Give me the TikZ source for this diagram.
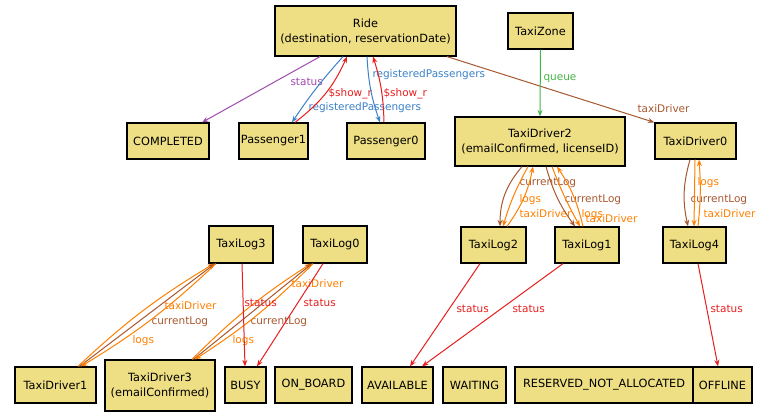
\documentclass[tikz,border=0pt]{standalone}
\usepackage{fontspec}
\setmainfont{DejaVu Sans}
\usetikzlibrary{arrows.meta}
\definecolor{boxfill}{RGB}{238,222,132}
\definecolor{cpurple}{RGB}{160,75,175}
\definecolor{cblue}{RGB}{60,130,200}
\definecolor{cred}{RGB}{232,30,30}
\definecolor{cbrown}{RGB}{168,88,48}
\definecolor{corange}{RGB}{255,128,0}
\definecolor{cgreen}{RGB}{70,180,70}
\tikzset{
  box/.style={draw=black, line width=1.2pt, fill=boxfill, inner sep=0pt, align=center,
    font=\fontsize{11.3}{15}\selectfont},
  conn/.style={line width=1pt, -{Stealth[length=6.5pt,width=5pt]}},
  lbl/.style={anchor=west, inner sep=0pt, font=\fontsize{10.5}{12}\selectfont}
}
\begin{document}
\begin{tikzpicture}[x=1pt,y=-1pt]
\useasboundingbox[fill=white] (0,0) rectangle (765,417);
% nodes
\node[box, minimum width=181pt, minimum height=50pt] (ride) at (365.5,31) {Ride\\(destination, reservationDate)};
\node[box, minimum width=65pt, minimum height=36pt] (zone) at (540.5,31) {TaxiZone};
\node[box, minimum width=82pt, minimum height=36pt] (completed) at (168,141) {COMPLETED};
\node[box, minimum width=69pt, minimum height=36pt] (p1) at (273.5,141) {Passenger1};
\node[box, minimum width=78pt, minimum height=36pt] (p0) at (386,141) {Passenger0};
\node[box, minimum width=170pt, minimum height=49pt] (td2) at (540,141.5) {TaxiDriver2\\(emailConfirmed, licenseID)};
\node[box, minimum width=81pt, minimum height=36pt] (td0) at (695.5,141) {TaxiDriver0};
\node[box, minimum width=65pt, minimum height=36pt] (tl2) at (493.5,245) {TaxiLog2};
\node[box, minimum width=64pt, minimum height=36pt] (tl1) at (587,245) {TaxiLog1};
\node[box, minimum width=63pt, minimum height=36pt] (tl4) at (694.5,245) {TaxiLog4};
\node[box, minimum width=64pt, minimum height=37pt] (tl3) at (241,244.5) {TaxiLog3};
\node[box, minimum width=64pt, minimum height=37pt] (tl0) at (335,244.5) {TaxiLog0};
\node[box, minimum width=81pt, minimum height=36pt] (td1) at (55.5,385) {TaxiDriver1};
\node[box, minimum width=110pt, minimum height=51pt] (td3) at (160,385.5) {TaxiDriver3\\(emailConfirmed)};
\node[box, minimum width=41pt, minimum height=36pt] (busy) at (245.5,385) {BUSY};
\node[box, minimum width=77pt, minimum height=36pt] (onboard) at (313.5,385) {ON\_BOARD};
\node[box, minimum width=71pt, minimum height=36pt] (avail) at (397.5,385) {AVAILABLE};
\node[box, minimum width=63pt, minimum height=36pt] (waiting) at (474.5,385) {WAITING};
\node[box, minimum width=178pt, minimum height=36pt] (rna) at (604,385) {RESERVED\_NOT\_ALLOCATED};
\node[box, minimum width=59pt, minimum height=36pt] (offline) at (722.5,385) {OFFLINE};

% Ride edges
\draw[conn, cpurple] ([xshift=-45.5pt]ride.south) -- ([xshift=34pt]completed.north)
  node[lbl, text=cpurple] at (290,82) {status};
\draw[conn, cblue] ([xshift=-22.5pt]ride.south) to[bend right=4] ([xshift=18.5pt]p1.north)
  node[lbl, text=cblue] at (308,108) {registeredPassengers};
\draw[conn, cred] ([xshift=21.5pt]p1.north) to[bend right=14] ([xshift=-18.5pt]ride.south)
  node[lbl, text=cred] at (328,94) {\$show\_r};
\draw[conn, cblue] ([xshift=1.5pt]ride.south) to[bend right=8] ([xshift=-6pt]p0.north)
  node[lbl, text=cblue] at (372,75) {registeredPassengers};
\draw[conn, cred] ([xshift=-2pt]p0.north) to[bend right=8] ([xshift=7.5pt]ride.south)
  node[lbl, text=cred] at (383,94) {\$show\_r};
\draw[conn, cbrown] ([xshift=81.5pt]ride.south) -- (td0.north west)
  node[lbl, text=cbrown] at (637,109) {taxiDriver};
\draw[conn, cgreen] (zone.south) -- (td2.north)
  node[lbl, text=cgreen] at (543,79) {queue};

% TaxiDriver2 <-> TaxiLog2
\draw[conn, cbrown] ([xshift=-18pt]td2.south) to[bend right=20] ([xshift=6.5pt]tl2.north)
  node[lbl, text=cbrown] at (519,183) {currentLog};
\draw[conn, corange] ([xshift=-12pt]td2.south) to[bend right=6] ([xshift=9.5pt]tl2.north)
  node[lbl, text=corange] at (519,200) {logs};
\draw[conn, corange] ([xshift=13.5pt]tl2.north) to[bend right=12] ([xshift=-7pt]td2.south)
  node[lbl, text=corange] at (519,214) {taxiDriver};

% TaxiDriver2 <-> TaxiLog1
\draw[conn, cbrown] ([xshift=6pt]td2.south) to[bend right=10] ([xshift=-12pt]tl1.north)
  node[lbl, text=cbrown] at (564,200) {currentLog};
\draw[conn, corange] ([xshift=12pt]td2.south) to[bend right=4] ([xshift=-7pt]tl1.north)
  node[lbl, text=corange] at (581,215) {logs};
\draw[conn, corange] ([xshift=-4pt]tl1.north) to[bend right=10] ([xshift=17pt]td2.south)
  node[lbl, text=corange] at (585,219) {taxiDriver};

% TaxiDriver0 <-> TaxiLog4
\draw[conn, cbrown] ([xshift=-5.5pt]td0.south) to[bend right=14] ([xshift=-6.5pt]tl4.north)
  node[lbl, text=cbrown] at (690,200) {currentLog};
\draw[conn, corange] ([xshift=-0.5pt]td0.south) -- ([xshift=-0.5pt]tl4.north)
  node[lbl, text=corange] at (697,183) {logs};
\draw[conn, corange] ([xshift=3.5pt]tl4.north) to[bend right=5] ([xshift=3.5pt]td0.south)
  node[lbl, text=corange] at (703,214) {taxiDriver};

% TaxiDriver1 <-> TaxiLog3
\draw[conn, corange] ([xshift=22.5pt]td1.north) to[bend left=6] ([xshift=-27pt]tl3.south)
  node[lbl, text=corange] at (132,341) {logs};
\draw[conn, cbrown] ([xshift=24pt]td1.north) -- ([xshift=-26pt]tl3.south)
  node[lbl, text=cbrown] at (151,322) {currentLog};
\draw[conn, corange] ([xshift=-25pt]tl3.south) to[bend left=6] ([xshift=25.5pt]td1.north)
  node[lbl, text=corange] at (164,306) {taxiDriver};

% TaxiDriver3 <-> TaxiLog0
\draw[conn, corange] ([xshift=32pt]td3.north) to[bend left=6] ([xshift=-24pt]tl0.south)
  node[lbl, text=corange] at (232,341) {logs};
\draw[conn, cbrown] ([xshift=33.5pt]td3.north) -- ([xshift=-23pt]tl0.south)
  node[lbl, text=cbrown] at (250,322) {currentLog};
\draw[conn, corange] ([xshift=-22pt]tl0.south) to[bend left=6] ([xshift=35pt]td3.north)
  node[lbl, text=corange] at (291,284) {taxiDriver};

% status edges
\draw[conn, cred] ([xshift=1pt]tl3.south) -- ([xshift=-0.5pt]busy.north)
  node[lbl, text=cred] at (244,303) {status};
\draw[conn, cred] ([xshift=-12pt]tl0.south) -- ([xshift=11.5pt]busy.north)
  node[lbl, text=cred] at (303,303) {status};
\draw[conn, cred] ([xshift=-13.5pt]tl2.south) -- ([xshift=12.5pt]avail.north)
  node[lbl, text=cred] at (456,309) {status};
\draw[conn, cred] ([xshift=-24pt]tl1.south) -- ([xshift=24.5pt]avail.north)
  node[lbl, text=cred] at (512,309) {status};
\draw[conn, cred] ([xshift=3.5pt]tl4.south) -- ([xshift=-4.5pt]offline.north)
  node[lbl, text=cred] at (710,309) {status};
\end{tikzpicture}
\end{document}
